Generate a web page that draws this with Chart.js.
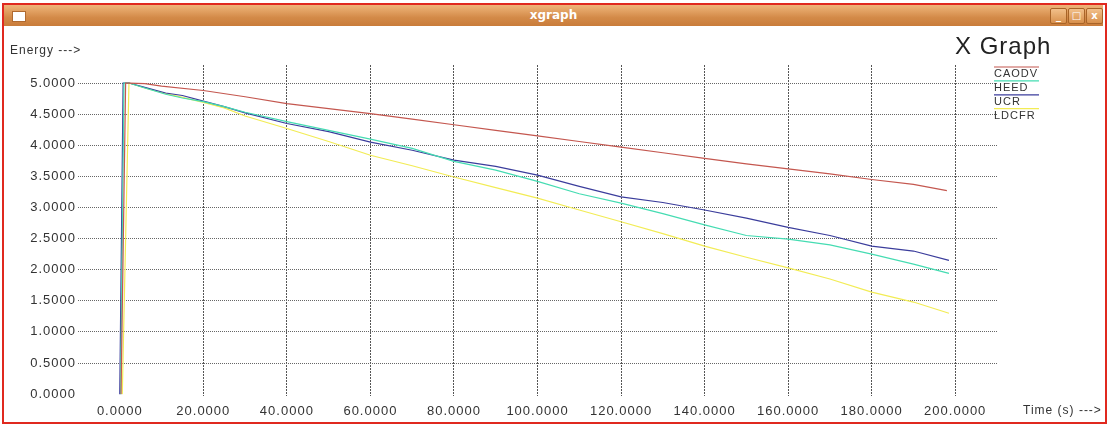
<!DOCTYPE html>
<html><head><meta charset="utf-8">
<script src="https://cdn.jsdelivr.net/npm/chart.js@4"></script>
<style>
html,body{margin:0;padding:0;background:#fff;width:1107px;height:426px;overflow:hidden;}
#frame{position:absolute;left:2px;top:3px;width:1101px;height:417px;border:2px solid #e0291f;background:#fff;}
#titlebar{position:absolute;left:4px;top:5px;width:1099px;height:21px;background:linear-gradient(#efb57a,#d38a48 60%,#c97c3a);}
#titletext{position:absolute;left:0;top:3px;width:1099px;text-align:center;color:#fff;font:bold 12px "DejaVu Sans",sans-serif;}
#icon{position:absolute;left:8px;top:6px;width:12px;height:9px;background:#fff;border:1px solid #b06a30;}
.btn{position:absolute;top:3px;width:15px;height:14px;border:1px solid #a86428;background:linear-gradient(#f2c08a,#d8904c);border-radius:2px;}
.btn span{position:absolute;left:0;top:0;width:15px;text-align:center;color:#fff;font:bold 10px "DejaVu Sans",sans-serif;line-height:14px;}
canvas{position:absolute;left:0;top:0;}
</style></head>
<body>
<div id="frame"></div>
<div id="titlebar"><div id="icon"></div><div id="titletext">xgraph</div>
<div class="btn" style="left:1046px"><span>_</span></div>
<div class="btn" style="left:1064px"><span>□</span></div>
<div class="btn" style="left:1082px"><span>x</span></div>
</div>
<canvas id="c" width="1107" height="426"></canvas>
<script>
const SERIES_NAMES = ['CAODV','HEED','UCR','LDCFR'];
const X_TICKS = [0,20,40,60,80,100,120,140,160,180,200];
const Y_TICKS = [0,0.5,1,1.5,2,2.5,3,3.5,4,4.5,5];

const CAODV_T = [0.3,1.4,2.2,6,10,20,30,40,50,60,70,80,90,100,110,120,130,140,150,160,170,180,190,198];
const CAODV_E = [0,5.0,5.0,4.99,4.95,4.88,4.78,4.67,4.59,4.51,4.42,4.33,4.24,4.15,4.06,3.97,3.88,3.79,3.70,3.62,3.54,3.45,3.37,3.27];

const HEED_T = [0.2,1.0,2.2,6,11,15,20,25,30,40,50,60,70,80,90,100,110,120,130,140,150,160,170,180,190,198.5];
const HEED_E = [0,5.0,5.0,4.92,4.82,4.76,4.70,4.62,4.53,4.38,4.24,4.10,3.95,3.74,3.60,3.42,3.22,3.07,2.90,2.72,2.55,2.49,2.40,2.25,2.09,1.94];

const UCR_T = [0,0.8,2.2,6,11,15,20,25,30,40,50,60,70,80,90,100,110,120,130,140,150,160,170,180,190,198.5];
const UCR_E = [0,5.0,5.0,4.93,4.84,4.80,4.71,4.62,4.52,4.35,4.22,4.05,3.92,3.76,3.66,3.52,3.34,3.17,3.08,2.96,2.83,2.68,2.55,2.38,2.30,2.15];

const LDCFR_T = [0.6,2.2,6,11,15,20,25,30,40,50,60,70,80,90,100,110,120,130,140,150,160,170,180,190,198.5];
const LDCFR_E = [0,5.0,4.92,4.83,4.77,4.69,4.60,4.47,4.27,4.06,3.84,3.67,3.49,3.32,3.15,2.96,2.77,2.58,2.38,2.20,2.03,1.85,1.64,1.48,1.30];

const COLORS = ['#c4574f','#45dcb2','#3b3d9c','#f2ec55'];

function pts(t,e){return t.map((x,i)=>({x:x,y:e[i]}));}
const SERIES = [[CAODV_T,CAODV_E],[HEED_T,HEED_E],[UCR_T,UCR_E],[LDCFR_T,LDCFR_E]];

const TICK_FONT = {family:'"Liberation Sans", Arial, sans-serif', size:13};

const textPlugin = {
  id:'texts',
  beforeDraw(chart){ chart.ctx.letterSpacing='1px'; },
  afterDraw(chart){
    const ctx = chart.ctx;
    ctx.save();
    ctx.fillStyle = '#222';
    ctx.textBaseline = 'alphabetic';
    ctx.textAlign = 'left';
    ctx.letterSpacing = '1px';
    ctx.font = '24px "Liberation Sans", Arial, sans-serif';
    ctx.fillText('X Graph', 955, 54);
    ctx.font = '12px "Liberation Sans", Arial, sans-serif';
    ctx.fillStyle = '#333';
    ctx.fillText('Energy --->', 10, 54);
    ctx.fillText('Time (s) --->', 1023, 414);
    // legend
    ctx.font = '11px "Liberation Sans", Arial, sans-serif';
    chart.data.datasets.forEach((ds,i)=>{
      const ly = 67 + i*13.9;
      ctx.strokeStyle = ds.borderColor;
      ctx.lineWidth = 1.2;
      ctx.beginPath(); ctx.moveTo(994, ly); ctx.lineTo(1039, ly); ctx.stroke();
      ctx.fillStyle = '#333';
      ctx.fillText(ds.label, 994, ly + 10);
    });
    ctx.restore();
  }
};

new Chart(document.getElementById('c'), {
  type:'line',
  data:{
    datasets: SERIES_NAMES.map((n,i)=>({
      label:n, data: pts(SERIES[i][0], SERIES[i][1]),
      borderColor: COLORS[i], backgroundColor: COLORS[i],
      borderWidth:1.2, pointRadius:0, tension:0, fill:false
    }))
  },
  options:{
    responsive:false, animation:false,
    plugins:{legend:{display:false}, tooltip:{enabled:false}, title:{display:false}},
    layout:{padding:{top:65,right:110,left:0,bottom:0}},
    scales:{
      x:{
        type:'linear', min:-10, max:210,
        afterBuildTicks: s => { s.ticks = X_TICKS.map(v=>({value:v})); },
        afterFit: s => { s.height = 30; },
        grid:{ color: c => (c.tick && c.tick.value===0) ? 'rgba(0,0,0,0)' : '#555', drawTicks:false, lineWidth:1 },
        border:{ display:false, dash:[2,1] },
        ticks:{ padding:8, color:'#333', font:TICK_FONT, autoSkip:false, maxRotation:0, callback: v => Number(v).toFixed(4) }
      },
      y:{
        type:'linear', min:-0.03, max:5.29,
        afterBuildTicks: s => { s.ticks = Y_TICKS.map(v=>({value:v})); },
        afterFit: s => { s.width = 78; },
        grid:{ color: c => (c.tick && c.tick.value===0) ? 'rgba(0,0,0,0)' : '#666', drawTicks:false, lineWidth:1 },
        border:{ display:false, dash:[1,1] },
        ticks:{ padding:2, color:'#333', font:TICK_FONT, autoSkip:false, callback: v => Number(v).toFixed(4) }
      }
    }
  },
  plugins:[textPlugin]
});
</script>
</body></html>
